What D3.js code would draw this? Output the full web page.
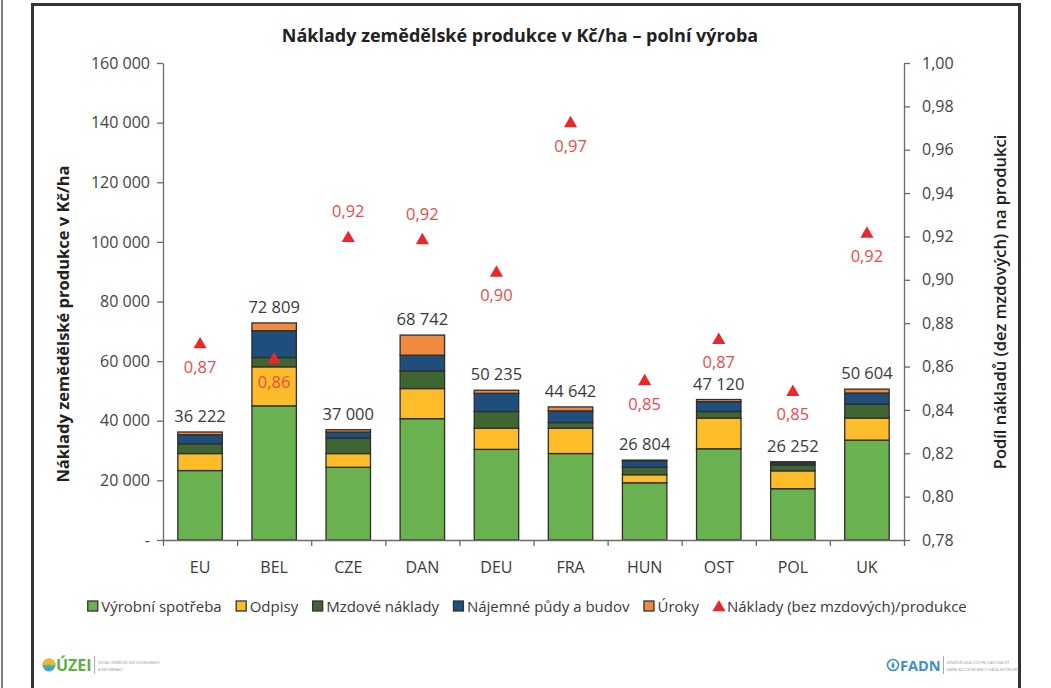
<!DOCTYPE html>
<html>
  <head>
    <meta http-equiv="Content-Type" content="text/html;charset=utf-8">
    <title>Náklady zemědělské produkce v Kč/ha – polní výroba</title>
    <script type="text/javascript" src="https://d3js.org/d3.v7.min.js"></script>
    <style>
	    html, body {
		    margin: 0;
		    padding: 0;
		    background: #fff;
	    }
	    text {
		    font-family: "Open Sans", sans-serif;
		    fill: #3a3a3a;
	    }
	    .axis path,
	    .axis line {
		    fill: none;
		    stroke: #6b6b6b;
		    stroke-width: 1.3px;
	    }
	    .axis text {
		    font-size: 16px;
		    fill: #444;
	    }
	    .title {
		    font-weight: bold;
		    font-size: 18px;
		    fill: #222;
	    }
	    .ytitle {
		    font-size: 16.5px;
		    fill: #222;
	    }
    </style>
  </head>
  <body>
	<script type="text/javascript">

var categories = ["EU", "BEL", "CZE", "DAN", "DEU", "FRA", "HUN", "OST", "POL", "UK"];
var seriesNames = ["Výrobní spotřeba", "Odpisy", "Mzdové náklady", "Nájemné půdy a budov", "Úroky"];
var vyrobniSpotreba = [23300, 45000, 24400, 40700, 30400, 29000, 19200, 30600, 17200, 33500];
var odpisy          = [5700, 13100, 4600, 10100, 7100, 8500, 2700, 10300, 6000, 7400];
var mzdoveNaklady   = [3300, 3100, 5200, 5900, 5600, 1900, 2500, 2200, 2000, 4700];
var najemne         = [3000, 9000, 2000, 5300, 6100, 3900, 2200, 3300, 700, 3700];
var uroky           = [922, 2609, 800, 6742, 1035, 1342, 204, 720, 352, 1304];
var totals          = [36222, 72809, 37000, 68742, 50235, 44642, 26804, 47120, 26252, 50604];
var ratioName = "Náklady (bez mzdových)/produkce";
var ratio = [0.871, 0.864, 0.920, 0.919, 0.904, 0.973, 0.854, 0.873, 0.849, 0.922];
var ratioLabelSide = ["below", "below", "above", "above", "below", "below", "below", "below", "below", "below"];
var leftTicks = [0, 20000, 40000, 60000, 80000, 100000, 120000, 140000, 160000];
var rightTicks = [0.78, 0.80, 0.82, 0.84, 0.86, 0.88, 0.90, 0.92, 0.94, 0.96, 0.98, 1.00];

var colors = ["#6ab150", "#fdbd2b", "#3e6532", "#1f4e7d", "#f08a3e"];
var red = "#e8282b";

var W = 1051, H = 688;
var margin = {left: 163, right: 147, top: 63, bottom: 148};
var width = W - margin.left - margin.right;
var height = H - margin.top - margin.bottom;

var cz = d3.formatLocale({decimal: ",", thousands: " ", grouping: [3], currency: ["", ""]});
var fmtInt = cz.format(",d");
var fmt2 = cz.format(".2f");

var svg = d3.select("body").append("svg").attr("width", W).attr("height", H);

// frame
svg.append("line").attr("x1", 2).attr("x2", 2).attr("y1", 0).attr("y2", H)
	.attr("stroke", "#555").attr("stroke-width", 1.5);
svg.append("rect").attr("x", 32.5).attr("y", 4.5).attr("width", 987).attr("height", H + 20)
	.attr("fill", "none").attr("stroke", "#333").attr("stroke-width", 3);

svg.append("text").attr("class", "title").attr("x", 520).attr("y", 42)
	.attr("text-anchor", "middle").text("Náklady zemědělské produkce v Kč/ha – polní výroba");

var g = svg.append("g").attr("transform", "translate(" + margin.left + "," + margin.top + ")");

var x = d3.scaleBand().domain(categories).range([0, width]).paddingInner(0.4).paddingOuter(0.2);
var y = d3.scaleLinear().domain([0, 160000]).range([height, 0]);
var y2 = d3.scaleLinear().domain([0.78, 1.00]).range([height, 0]);

var rows = categories.map(function(c, i) {
	return {cat: c, "Výrobní spotřeba": vyrobniSpotreba[i], "Odpisy": odpisy[i],
		"Mzdové náklady": mzdoveNaklady[i], "Nájemné půdy a budov": najemne[i], "Úroky": uroky[i]};
});
var stack = d3.stack().keys(seriesNames)(rows);

g.selectAll("g.layer").data(stack).enter().append("g")
	.attr("class", "layer")
	.attr("fill", function(d, i) { return colors[i]; })
	.selectAll("rect").data(function(d) { return d; }).enter().append("rect")
	.attr("x", function(d) { return x(d.data.cat); })
	.attr("width", x.bandwidth())
	.attr("y", function(d) { return y(d[1]); })
	.attr("height", function(d) { return y(d[0]) - y(d[1]); })
	.attr("stroke", "#2e2e2e").attr("stroke-width", 1.3);

// totals
g.selectAll("text.total").data(totals).enter().append("text")
	.attr("class", "total")
	.attr("x", function(d, i) { return x(categories[i]) + x.bandwidth() / 2; })
	.attr("y", function(d) { return y(d) - 10; })
	.attr("text-anchor", "middle").attr("font-size", "16.5px").attr("fill", "#3a3a3a")
	.text(fmtInt);

// axes
var xAxis = d3.axisBottom(d3.scaleLinear().domain([0, categories.length]).range([0, width]))
	.tickValues(d3.range(categories.length + 1)).tickSize(6).tickSizeOuter(0).tickFormat("");
g.append("g").attr("class", "axis x").attr("transform", "translate(0," + height + ")").call(xAxis);

g.selectAll("text.cat").data(categories).enter().append("text")
	.attr("class", "cat")
	.attr("x", function(d) { return x(d) + x.bandwidth() / 2; })
	.attr("y", height + 33)
	.attr("text-anchor", "middle").attr("font-size", "16px").attr("fill", "#333")
	.text(function(d) { return d; });

var yAxis = d3.axisLeft(y).tickValues(leftTicks).tickSize(6).tickSizeOuter(0).tickPadding(7)
	.tickFormat(function(d) { return d === 0 ? "-" : fmtInt(d); });
g.append("g").attr("class", "axis y").call(yAxis);

var yAxis2 = d3.axisRight(y2).tickValues(rightTicks).tickSize(6).tickSizeOuter(0).tickPadding(12)
	.tickFormat(fmt2);
g.append("g").attr("class", "axis y2").attr("transform", "translate(" + width + ",0)").call(yAxis2);

g.selectAll(".axis .domain").attr("stroke", "#6b6b6b");

// ratio markers
var tri = d3.symbol().type(d3.symbolTriangle).size(75);
g.selectAll("path.ratio").data(ratio).enter().append("path")
	.attr("class", "ratio")
	.attr("d", tri)
	.attr("fill", red)
	.attr("transform", function(d, i) {
		return "translate(" + (x(categories[i]) + x.bandwidth() / 2) + "," + (y2(d) + 1.8) + ")";
	});
g.selectAll("text.ratio").data(ratio).enter().append("text")
	.attr("class", "ratio")
	.attr("x", function(d, i) { return x(categories[i]) + x.bandwidth() / 2; })
	.attr("y", function(d, i) { return ratioLabelSide[i] === "above" ? y2(d) - 19 : y2(d) + 30; })
	.attr("text-anchor", "middle").attr("font-size", "16.5px")
	.style("fill", "#f04a4a")
	.text(fmt2);

// axis titles
svg.append("text").attr("class", "ytitle").attr("font-weight", "bold")
	.attr("transform", "translate(69,324) rotate(-90)")
	.attr("text-anchor", "middle").text("Náklady zemědělské produkce v Kč/ha");
svg.append("text").attr("class", "ytitle").attr("font-weight", 600)
	.attr("transform", "translate(1006,302) rotate(-90)")
	.attr("text-anchor", "middle").text("Podíl nákladů (dez mzdových) na produkci");

// legend
var legendItems = seriesNames.map(function(n, i) { return {name: n, color: colors[i], type: "rect"}; })
	.concat([{name: ratioName, color: red, type: "tri"}]);
var legend = svg.append("g").attr("class", "legend");
var lx = 0;
legendItems.forEach(function(d) {
	var item = legend.append("g").attr("transform", "translate(" + lx + ",0)");
	if (d.type === "rect") {
		item.append("rect").attr("x", 0.5).attr("y", -5).attr("width", 10).attr("height", 10)
			.attr("fill", d.color).attr("stroke", "#333").attr("stroke-width", 1.3);
	} else {
		item.append("path").attr("d", tri).attr("fill", d.color).attr("transform", "translate(6,1.5)");
	}
	var t = item.append("text").attr("x", 14).attr("y", 5.5).attr("font-size", "15px").attr("fill", "#333")
		.text(d.name);
	lx += 14 + t.node().getComputedTextLength() + 14;
});
legend.attr("transform", "translate(" + (527 - (lx - 14) / 2) + ",606)");

// logos
function logo(gx, name, color, size, line1, line2, drawIcon) {
	var lg = svg.append("g").attr("transform", "translate(" + gx + ",665)");
	drawIcon(lg);
	var t = lg.append("text").attr("x", 7).attr("y", 6).attr("font-size", size + "px").attr("font-weight", "bold")
		.style("fill", color).text(name);
	var sx = 7 + t.node().getComputedTextLength() + 3;
	lg.append("line").attr("x1", sx).attr("x2", sx).attr("y1", -9).attr("y2", 9).attr("stroke", "#aaa");
	lg.append("text").attr("x", sx + 3).attr("y", -1).attr("font-size", "4px").style("fill", "#999").text(line1);
	lg.append("text").attr("x", sx + 3).attr("y", 5.5).attr("font-size", "4px").style("fill", "#999").text(line2);
}
logo(49, "ÚZEI", "#5bb046", 16, "ÚSTAV ZEMĚDĚLSKÉ EKONOMIKY", "A INFORMACÍ", function(lg) {
	lg.append("circle").attr("r", 6.5).attr("fill", "#3ba5dd");
	lg.append("path").attr("d", "M-6.5,0 A6.5,6.5 0 0 1 6.5,0 Z").attr("fill", "#f2b630");
	lg.append("path").attr("d", "M-5,1.5 Q0,-3 5,1.5 L5,3 Q0,-1 -5,3 Z").attr("fill", "#7dc142");
});
logo(893, "FADN", "#3d8fd1", 14.5, "ZEMĚDĚLSKÁ ÚČETNÍ DATOVÁ SÍŤ", "FARM ACCOUNTANCY DATA NETWORK", function(lg) {
	lg.append("circle").attr("r", 5.5).attr("fill", "none").attr("stroke", "#3d8fd1").attr("stroke-width", 1.6);
	lg.append("path").attr("d", "M0,-3 Q3,1 0,3.5 Q-3,1 0,-3 Z").attr("fill", "#3d8fd1");
});

	</script>
  </body>
</html>
